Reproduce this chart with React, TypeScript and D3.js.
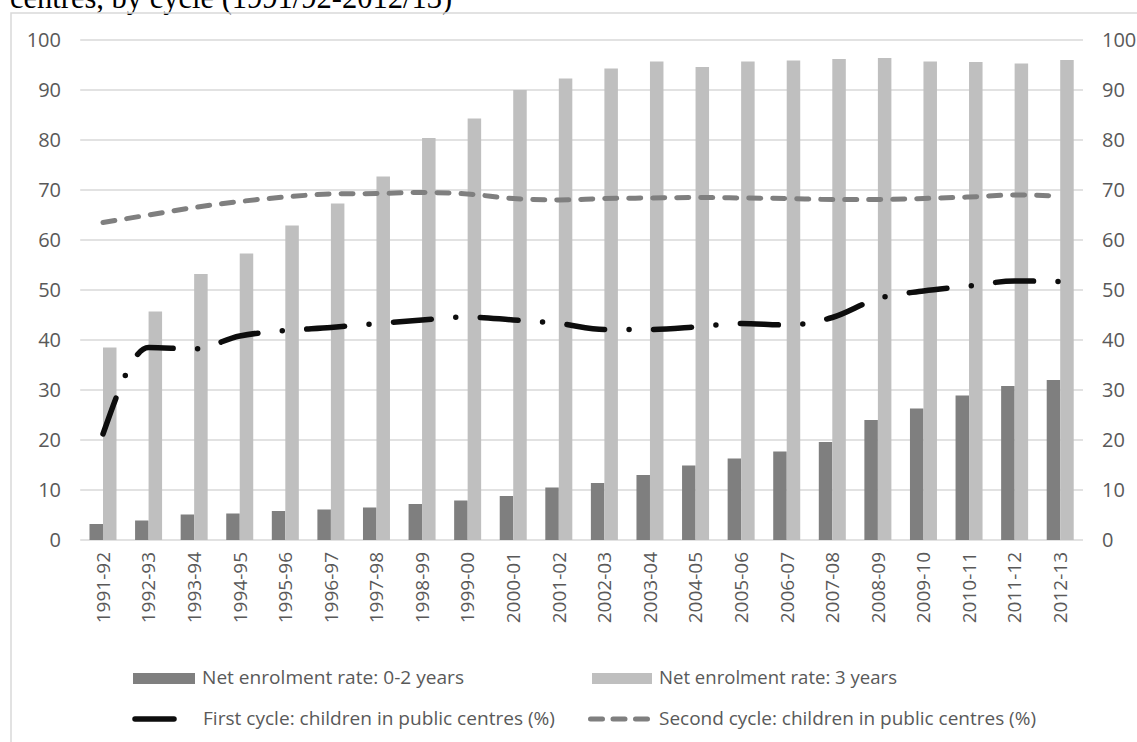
import React from "react";
import * as d3 from "d3";

const categories = ["1991-92","1992-93","1993-94","1994-95","1995-96","1996-97","1997-98","1998-99","1999-00","2000-01","2001-02","2002-03","2003-04","2004-05","2005-06","2006-07","2007-08","2008-09","2009-10","2010-11","2011-12","2012-13"];
const enrol02 = [3.2,3.9,5.1,5.3,5.8,6.1,6.5,7.2,7.9,8.8,10.5,11.4,13.0,14.9,16.3,17.7,19.6,24.0,26.3,28.9,30.8,32.0];
const enrol3 = [38.5,45.7,53.2,57.3,62.9,67.3,72.7,80.4,84.3,90.0,92.3,94.3,95.7,94.6,95.7,95.9,96.2,96.4,95.7,95.6,95.3,96.0];
const firstCycle = [21.2,38.5,38.2,40.8,41.9,42.5,43.3,44.0,44.6,44.0,43.3,42.1,42.1,42.6,43.3,43.0,44.5,48.3,49.8,50.8,51.8,51.7];
const secondCycle = [63.5,65.0,66.5,67.7,68.6,69.2,69.3,69.5,69.2,68.3,68.0,68.3,68.4,68.5,68.4,68.3,68.1,68.1,68.3,68.6,69.0,68.8];
const yTicks = [0,10,20,30,40,50,60,70,80,90,100];
const title = "centres, by cycle (1991/92-2012/13)";
const legendLabels = ["Net enrolment rate: 0-2 years","Net enrolment rate: 3 years","First cycle: children in public centres (%)","Second cycle: children in public centres (%)"];

const W = 1137, H = 742;
const plotL = 80.2, plotR = 1083, plotT = 40, plotB = 540;
const DARK = "#7f7f7f", LIGHT = "#bfbfbf", GRID = "#d9d9d9", TXT = "#595959";
const axisFont = "'Open Sans', sans-serif";
const legFont = "'Open Sans', sans-serif";

export default function App() {
  const x = d3.scaleBand<string>().domain(categories).range([plotL, plotR]).paddingInner(0).paddingOuter(0);
  const y = d3.scaleLinear().domain([0, 100]).range([plotB, plotT]);
  const bw = 13.5;
  const cx = (c: string) => (x(c) as number) + x.bandwidth() / 2;
  const line = d3.line<number>().x((_, i) => cx(categories[i])).y(d => y(d)).curve(d3.curveMonotoneX);

  return (
    <svg width={W} height={H} style={{ position: "absolute", left: 0, top: 0, background: "#fff" }}>
      <text x={10} y={8} fontFamily="'Liberation Serif', 'Times New Roman', serif" fontSize={30.5} fill="#000">{title}</text>
      <rect x={11} y={13} width={W + 20} height={H + 20} fill="none" stroke={GRID} strokeWidth={1.5} />
      {yTicks.map(t => (
        <g key={t}>
          <line x1={plotL} x2={plotR} y1={y(t)} y2={y(t)} stroke={GRID} strokeWidth={1.3} />
          <text x={61} y={y(t)} dy="0.36em" textAnchor="end" fontFamily={axisFont} fontSize={20} fill={TXT}>{t}</text>
          <text x={1102} y={y(t)} dy="0.36em" textAnchor="start" fontFamily={axisFont} fontSize={20} fill={TXT}>{t}</text>
        </g>
      ))}
      {categories.map((c, i) => (
        <g key={c}>
          <rect x={cx(c) - bw} y={y(enrol02[i])} width={bw} height={y(0) - y(enrol02[i])} fill={DARK} />
          <rect x={cx(c)} y={y(enrol3[i])} width={bw} height={y(0) - y(enrol3[i])} fill={LIGHT} />
          <text transform={`translate(${cx(c)},552) rotate(-90)`} dy="0.36em" textAnchor="end" fontFamily={axisFont} fontSize={19} fill={TXT}>{c}</text>
        </g>
      ))}
      <path d={line(secondCycle) || ""} fill="none" stroke={DARK} strokeWidth={5} strokeLinecap="round" strokeDasharray="12 12" />
      <path d={line(firstCycle) || ""} fill="none" stroke="#0d0d0d" strokeWidth={5.5} strokeLinecap="round" strokeDasharray="38 24.5 0 24.5" />
      {/* legend */}
      <rect x={133} y={673} width={62} height={11} fill={DARK} />
      <text x={202} y={684} fontFamily={legFont} fontSize={19} fill={TXT} textLength={262} lengthAdjust="spacingAndGlyphs">{legendLabels[0]}</text>
      <rect x={592} y={673} width={60} height={11} fill={LIGHT} />
      <text x={659} y={684} fontFamily={legFont} fontSize={19} fill={TXT} textLength={238} lengthAdjust="spacingAndGlyphs">{legendLabels[1]}</text>
      <line x1={135} x2={174} y1={719} y2={719} stroke="#0d0d0d" strokeWidth={5.5} strokeLinecap="round" />
      <text x={203} y={725} fontFamily={legFont} fontSize={19} fill={TXT} textLength={352} lengthAdjust="spacingAndGlyphs">{legendLabels[2]}</text>
      <line x1={590.5} x2={647.5} y1={719} y2={719} stroke={DARK} strokeWidth={5} strokeLinecap="round" strokeDasharray="12 10.5" />
      <text x={659} y={725} fontFamily={legFont} fontSize={19} fill={TXT} textLength={377} lengthAdjust="spacingAndGlyphs">{legendLabels[3]}</text>
    </svg>
  );
}
